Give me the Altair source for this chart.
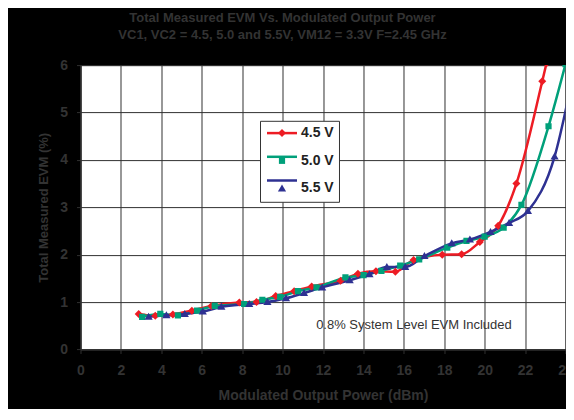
import altair as alt
import pandas as pd

# ---------------- data ----------------
series_names = ["4.5 V", "5.0 V", "5.5 V"]

x_45 = [2.88, 3.70, 4.57, 5.51, 6.48, 7.86, 8.71, 9.66, 10.57, 11.44, 12.87, 13.73, 14.62,
        15.58, 16.48, 17.90, 18.86, 19.76, 20.67, 21.57, 22.85, 23.06]
y_45 = [0.75, 0.71, 0.74, 0.82, 0.92, 0.99, 1.00, 1.13, 1.23, 1.33, 1.45, 1.60, 1.65,
        1.64, 1.89, 2.00, 2.01, 2.27, 2.61, 3.50, 5.66, 6.04]

x_50 = [3.05, 3.95, 4.82, 5.77, 6.64, 8.10, 9.00, 9.88, 10.76, 11.68, 13.11, 14.01, 14.89,
        15.82, 16.76, 18.15, 19.10, 20.00, 20.94, 21.82, 23.16, 24.00]
y_50 = [0.69, 0.75, 0.72, 0.82, 0.92, 0.96, 1.05, 1.11, 1.23, 1.31, 1.52, 1.57, 1.66,
        1.77, 1.90, 2.15, 2.29, 2.38, 2.57, 3.05, 4.71, 6.02]

x_55 = [3.37, 4.25, 5.16, 6.05, 6.97, 8.35, 9.25, 10.17, 11.06, 11.96, 13.32, 14.30, 15.16,
        16.07, 17.02, 18.37, 19.27, 20.29, 21.21, 22.14, 23.46, 24.40]
y_55 = [0.69, 0.72, 0.75, 0.80, 0.90, 0.96, 1.00, 1.08, 1.19, 1.31, 1.46, 1.59, 1.74,
        1.74, 1.97, 2.24, 2.32, 2.48, 2.67, 2.92, 4.07, 5.85]

title_lines = ["Total Measured EVM Vs. Modulated Output Power",
               "VC1, VC2 = 4.5, 5.0 and 5.5V, VM12 = 3.3V F=2.45 GHz"]
x_title = "Modulated Output Power (dBm)"
y_title = "Total Measured EVM (%)"
x_ticks = [0, 2, 4, 6, 8, 10, 12, 14, 16, 18, 20, 22, 24]
y_ticks = [0, 1, 2, 3, 4, 5, 6]

note_labels = ["0.8% System Level EVM Included"]
note_x = [16.5]
note_y = [0.52]

# ---------------- styling ----------------
colors = ["#ED1C24", "#00A07A", "#2E3192"]
# marker outlines (custom symbol paths; unit = half of sqrt(size))
shape_paths = [
    "M0,-0.8L0.8,0L0,0.8L-0.8,0Z",
    "M-0.62,-0.62H0.62V0.62H-0.62Z",
    "M0,-0.8L0.82,0.6H-0.82Z",
]
FONT = "Liberation Sans"
TXT = "#333333"
GRID = "#303030"

rows = []
for name, xs, ys in zip(series_names, [x_45, x_50, x_55], [y_45, y_50, y_55]):
    for xv, yv in zip(xs, ys):
        rows.append({"series": name, "power": xv, "evm": yv})
df = pd.DataFrame(rows)

note_df = pd.DataFrame({"power": note_x, "evm": note_y, "label": note_labels})

xenc = alt.X("power:Q", scale=alt.Scale(domain=[0, 24], nice=False),
             axis=alt.Axis(values=x_ticks, title=x_title, labelFlush=False,
                           tickSize=4, labelPadding=10, titlePadding=11,
                           titleFontSize=14))
yenc = alt.Y("evm:Q", scale=alt.Scale(domain=[0, 6], nice=False),
             axis=alt.Axis(values=y_ticks, title=y_title, tickSize=4,
                           labelPadding=9, titlePadding=9, titleFontSize=13))

common_legend = dict(
    title=None, orient="none", legendX=179.5, legendY=55.7,
    padding=5.3, symbolSize=100, symbolStrokeWidth=2.5, symbolOffset=9.7,
    labelOffset=12, rowPadding=9.7,
    labelFont=FONT, labelFontSize=14, labelFontWeight="bold", labelColor="#222222",
)

# box + labels + markers (below), line strokes drawn on top in the same colours
point_legend = alt.Legend(symbolStrokeColor="transparent", symbolOpacity=1,
                          fillColor="white", strokeColor="#333333", zindex=1,
                          **common_legend)
line_legend = alt.Legend(symbolType="M-3,0H3", labelExpr="''", zindex=2, **common_legend)

lines = alt.Chart(df).mark_line(strokeWidth=2.5, interpolate="monotone", clip=True).encode(
    x=xenc, y=yenc,
    stroke=alt.Stroke("series:N", scale=alt.Scale(range=colors), legend=line_legend),
)

points = alt.Chart(df).mark_point(filled=True, size=100, opacity=1, strokeWidth=0, clip=True).encode(
    x=xenc, y=yenc,
    fill=alt.Fill("series:N", scale=alt.Scale(domain=series_names, range=colors), legend=point_legend),
    shape=alt.Shape("series:N", scale=alt.Scale(domain=series_names, range=shape_paths),
                    legend=point_legend),
)

note = alt.Chart(note_df).mark_text(font=FONT, fontSize=13, color=TXT).encode(
    x=alt.X("power:Q"), y=alt.Y("evm:Q"), text="label:N"
)

chart = alt.layer(lines, points, note).properties(
    width=485, height=284.4,
    title=alt.TitleParams(text=title_lines, anchor="middle", frame="group", dx=-40.5, offset=16,
                          font=FONT, fontSize=13, fontWeight="bold", color=TXT, lineHeight=17),
    autosize=alt.AutoSizeParams(type="none"),
    padding={"left": 72.5, "top": 57.1, "right": 0.5, "bottom": 59.8},
    usermeta={"embedOptions": {"defaultStyle": "html,body{background:#000000;}"}},
).configure(background="black").configure_view(
    fill="white", stroke=GRID, strokeWidth=1
).configure_axis(
    labelFont=FONT, labelFontSize=14, labelFontWeight="bold", labelColor=TXT,
    titleFont=FONT, titleFontWeight="bold", titleColor=TXT,
    domainColor=GRID, tickColor=GRID, gridColor=GRID, gridWidth=1, gridOpacity=1,
)

chart.save("out.html", embed_options={"renderer": "svg", "actions": False})
